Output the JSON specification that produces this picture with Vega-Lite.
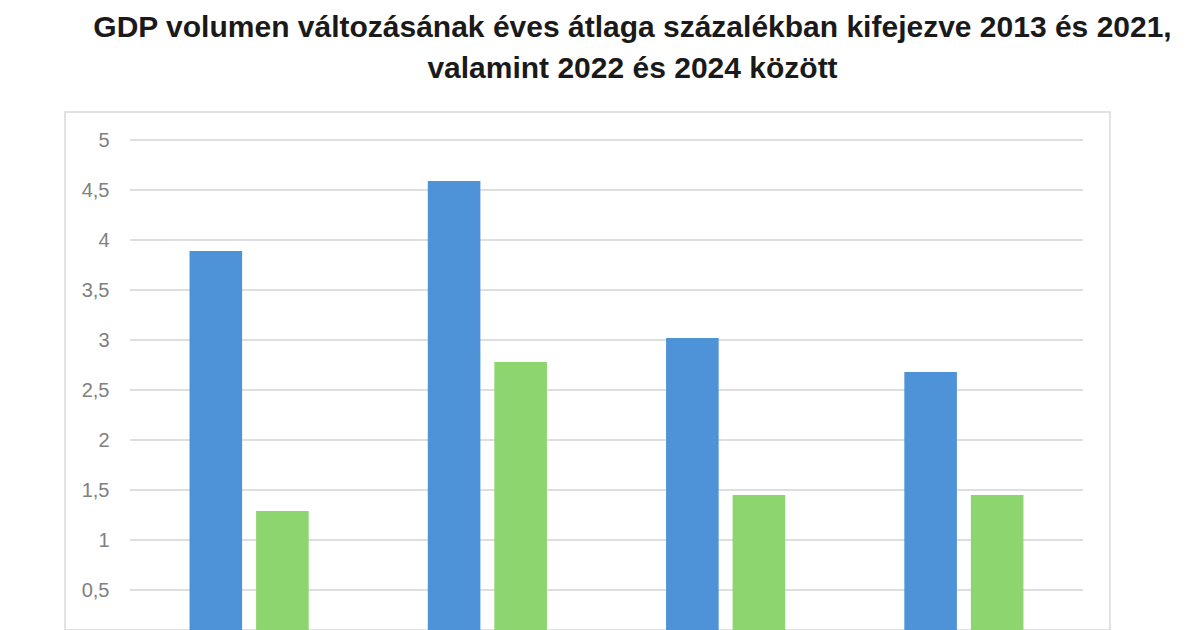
{
  "$schema": "https://vega.github.io/schema/vega-lite/v6.json",
  "autosize": {"type": "none"},
  "padding": {"left": 65, "top": 112, "right": 90, "bottom": 0},
  "width": 1045,
  "height": 518,
  "background": "white",
  "title": {
    "text": ["GDP volumen változásának éves átlaga százalékban kifejezve 2013 és 2021,", "valamint 2022 és 2024 között"],
    "font": "Liberation Sans",
    "fontSize": 30,
    "fontWeight": "bold",
    "color": "#1a1a1a",
    "anchor": "middle",
    "dx": 45,
    "lineHeight": 41,
    "offset": 28
  },
  "datasets": {
    "gdp": [
      {"csoport": "A", "idoszak": "2013–2021", "atlag": 3.89},
      {"csoport": "A", "idoszak": "2022–2024", "atlag": 1.29},
      {"csoport": "B", "idoszak": "2013–2021", "atlag": 4.59},
      {"csoport": "B", "idoszak": "2022–2024", "atlag": 2.78},
      {"csoport": "C", "idoszak": "2013–2021", "atlag": 3.02},
      {"csoport": "C", "idoszak": "2022–2024", "atlag": 1.45},
      {"csoport": "D", "idoszak": "2013–2021", "atlag": 2.68},
      {"csoport": "D", "idoszak": "2022–2024", "atlag": 1.45}
    ],
    "racs": [
      {"v": 0.5}, {"v": 1}, {"v": 1.5}, {"v": 2}, {"v": 2.5},
      {"v": 3}, {"v": 3.5}, {"v": 4}, {"v": 4.5}, {"v": 5}
    ]
  },
  "layer": [
    {
      "data": {"name": "racs"},
      "mark": {"type": "rule", "color": "#dedede", "strokeWidth": 2},
      "encoding": {
        "y": {"field": "v", "type": "quantitative"},
        "x": {"datum": "A", "type": "nominal", "bandPosition": -0.5},
        "x2": {"datum": "D", "bandPosition": 1.5}
      }
    },
    {
      "data": {"name": "gdp"},
      "mark": {"type": "bar", "clip": true},
      "encoding": {
        "x": {"field": "csoport", "type": "nominal", "axis": null},
        "xOffset": {
          "field": "idoszak",
          "scale": {"paddingInner": 0.21, "paddingOuter": 0}
        },
        "y": {"field": "atlag", "type": "quantitative"},
        "color": {
          "field": "idoszak",
          "scale": {"range": ["#4e92d8", "#8dd66f"]},
          "legend": null
        }
      }
    }
  ],
  "resolve": {"scale": {"x": "shared", "y": "shared"}},
  "encoding": {
    "x": {
      "field": "csoport",
      "type": "nominal",
      "axis": null,
      "scale": {"paddingInner": 0.5, "paddingOuter": 0.443, "align": 0.59}
    },
    "y": {
      "type": "quantitative",
      "title": null,
      "scale": {"domain": [0.1, 5.28], "clamp": true, "nice": false, "zero": false},
      "axis": {
        "values": [0.5, 1, 1.5, 2, 2.5, 3, 3.5, 4, 4.5, 5],
        "labelExpr": "replace(toString(datum.value), '.', ',')",
        "grid": false,
        "ticks": false,
        "domain": false,
        "offset": -44,
        "labelPadding": 0,
        "labelFont": "Liberation Sans",
        "labelFontSize": 20,
        "labelColor": "#808080"
      }
    }
  },
  "config": {
    "view": {"stroke": "#d9d9d9", "strokeWidth": 1.5}
  }
}
